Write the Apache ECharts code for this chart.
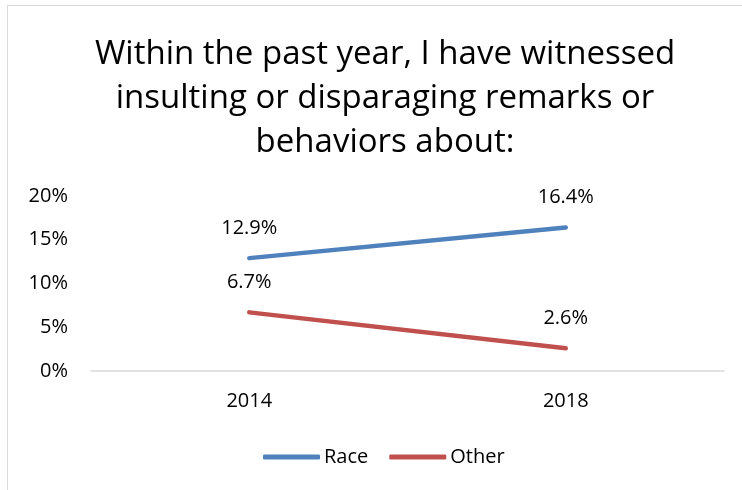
<!DOCTYPE html>
<html>
<head>
<meta charset="utf-8">
<script src="https://cdn.jsdelivr.net/npm/echarts@6/dist/echarts.min.js"></script>
<style>
  html, body { margin: 0; padding: 0; background: #fff; }
  #frame { position: absolute; left: 7px; top: 5px; width: 800px; height: 600px; border: 1px solid #d9d9d9; box-sizing: border-box; }
  #chart { position: absolute; left: 0; top: 0; width: 742px; height: 490px; }
</style>
</head>
<body>
<div id="frame"></div>
<div id="chart"></div>
<script>
// data
const years = ['2014', '2018'];
const race = [12.9, 16.4];
const other = [6.7, 2.6];

const font = '"Open Sans", "Noto Sans", sans-serif';

let chart = echarts.init(document.getElementById('chart'));

const labelStyle = {
    show: true,
    position: 'top',
    distance: 20,
    fontFamily: font,
    fontSize: 20,
    color: '#000',
    formatter: p => p.value + '%'
};

const option = {
    animation: false,
    title: {
        text: 'Within the past year, I have witnessed\ninsulting or disparaging remarks or\nbehaviors about:',
        left: 380,
        top: 28,
        textAlign: 'center',
        textStyle: {
            fontFamily: font,
            fontSize: 33,
            fontWeight: 'normal',
            color: '#000',
            lineHeight: 44
        }
    },
    legend: {
        data: ['Race', 'Other'],
        bottom: 18,
        left: 258,
        itemWidth: 57,
        itemHeight: 5,
        itemGap: 21,
        icon: 'roundRect',
        textStyle: { fontFamily: font, fontSize: 20, color: '#000', padding: [0, 0, 0, -1] }
    },
    grid: { left: 91, right: 18, top: 196, bottom: 119 },
    xAxis: {
        type: 'category',
        data: years,
        axisLine: { lineStyle: { color: '#d9d9d9', width: 1.5 } },
        axisTick: { show: false },
        axisLabel: { fontFamily: font, fontSize: 20, color: '#000', margin: 20 }
    },
    yAxis: {
        type: 'value',
        min: 0,
        max: 20,
        interval: 5,
        splitLine: { show: false },
        axisLine: { show: false },
        axisTick: { show: false },
        axisLabel: { fontFamily: font, fontSize: 20, color: '#000', margin: 23, formatter: '{value}%' }
    },
    series: [
        {
            name: 'Race',
            type: 'line',
            data: race,
            symbol: 'circle',
            symbolSize: 0,
            color: '#4F81BD',
            lineStyle: { width: 4.5, cap: 'round' },
            label: labelStyle
        },
        {
            name: 'Other',
            type: 'line',
            data: other,
            symbol: 'circle',
            symbolSize: 0,
            color: '#C0504D',
            lineStyle: { width: 4.5, cap: 'round' },
            label: labelStyle
        }
    ]
};

chart.setOption(option);
window.addEventListener('resize', () => {
    chart?.resize();
});
</script>
</body>
</html>
